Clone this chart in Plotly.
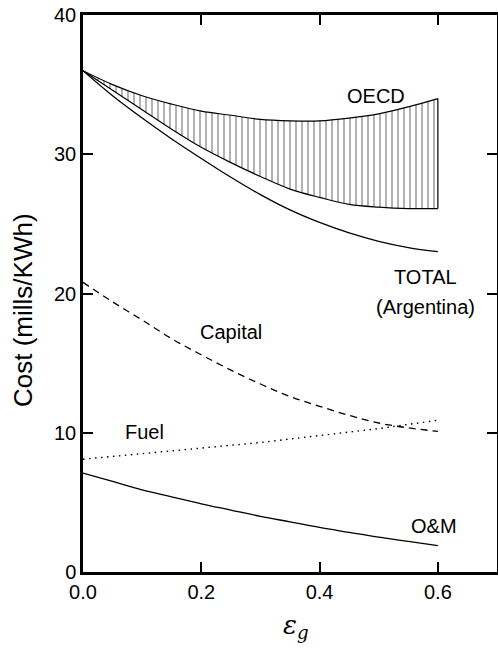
import plotly.graph_objects as go

# ---- data ----
eps = [0.0, 0.05, 0.1, 0.15, 0.2, 0.25, 0.3, 0.35, 0.4, 0.45, 0.5, 0.55, 0.6]
oecd_upper = [36.0, 35.0, 34.2, 33.6, 33.1, 32.8, 32.5, 32.4, 32.4, 32.6, 32.9, 33.4, 34.0]
oecd_lower = [36.0, 34.6, 33.2, 31.8, 30.5, 29.4, 28.4, 27.5, 26.9, 26.4, 26.2, 26.1, 26.1]
total_arg = [36.0, 34.2, 32.6, 31.1, 29.7, 28.35, 27.1, 26.0, 25.1, 24.35, 23.75, 23.3, 23.0]
capital = [20.8, 19.4, 18.1, 16.75, 15.6, 14.5, 13.5, 12.6, 11.9, 11.25, 10.7, 10.35, 10.1]
fuel = [8.1, 8.3, 8.5, 8.7, 8.9, 9.1, 9.3, 9.55, 9.8, 10.05, 10.3, 10.6, 10.9]
om = [7.1, 6.5, 5.9, 5.4, 4.9, 4.45, 4.0, 3.6, 3.2, 2.85, 2.5, 2.2, 1.9]

x_ticks = [0.0, 0.2, 0.4, 0.6]
y_ticks = [0, 10, 20, 30, 40]

FONT = "Liberation Sans, Arial, sans-serif"

fig = go.Figure()

# OECD hatched band between lower and upper curves
fig.add_trace(go.Scatter(x=eps, y=oecd_lower, mode="lines", line_shape="spline",
                         line=dict(color="black", width=1.2), showlegend=False,
                         hoverinfo="skip"))
fig.add_trace(go.Scatter(
    x=eps, y=oecd_upper, mode="lines", line_shape="spline", fill="tonexty",
    line=dict(color="black", width=1.2),
    fillcolor="rgba(0,0,0,0)",
    fillpattern=dict(shape="|", size=6, solidity=0.2, fgcolor="black",
                     bgcolor="rgba(0,0,0,0)"),
    showlegend=False, hoverinfo="skip"))
# closing edge of the band at the last epsilon
fig.add_trace(go.Scatter(x=[eps[-1], eps[-1]], y=[oecd_lower[-1], oecd_upper[-1]],
                         mode="lines", line=dict(color="black", width=1.2),
                         showlegend=False, hoverinfo="skip"))

fig.add_trace(go.Scatter(x=eps, y=total_arg, mode="lines", line_shape="spline",
                         line=dict(color="black", width=1.3), showlegend=False))
fig.add_trace(go.Scatter(x=eps, y=capital, mode="lines", line_shape="spline",
                         line=dict(color="black", width=1.3, dash="7px,5px"), showlegend=False))
fig.add_trace(go.Scatter(x=eps, y=fuel, mode="lines", line_shape="spline",
                         line=dict(color="black", width=1.4, dash="1.5px,4.5px"), showlegend=False))
fig.add_trace(go.Scatter(x=eps, y=om, mode="lines", line_shape="spline",
                         line=dict(color="black", width=1.3), showlegend=False))

labels = [
    ("OECD", 0.495, 34.2),
    ("TOTAL", 0.579, 21.2),
    ("(Argentina)", 0.579, 19.05),
    ("Capital", 0.25, 17.2),
    ("Fuel", 0.104, 10.05),
    ("O&M", 0.593, 3.28),
]
for t, x, y in labels:
    fig.add_annotation(x=x, y=y, text=t, showarrow=False, xref="x", yref="y",
                       font=dict(family=FONT, size=20, color="black"),
                       xanchor="center", yanchor="middle")

# y-axis title
fig.add_annotation(x=(23 - 83) / 414, y=(572 - 310) / 557, xref="paper", yref="paper",
                   text="Cost (mills/KWh)", textangle=-90, showarrow=False,
                   font=dict(family=FONT, size=26, color="black"),
                   xanchor="center", yanchor="middle")
# x-axis title: epsilon with subscript g (single text element)
fig.add_annotation(x=(281 - 83) / 414, y=(572 - 608) / 557, xref="paper", yref="paper",
                   text="<i>ε</i><sub><i>g</i></sub>", showarrow=False,
                   font=dict(family="DejaVu Serif, serif", size=26, color="black"),
                   xanchor="left", yanchor="top")

axis_common = dict(showgrid=False, zeroline=False, showline=True, linecolor="black",
                   linewidth=2.5, mirror="ticks", ticks="inside", ticklen=10,
                   tickwidth=2, tickcolor="black", automargin=False,
                   tickfont=dict(family=FONT, size=20, color="black"))

fig.update_xaxes(range=[0, 0.7], tickvals=x_ticks,
                 ticktext=[f"{v:.1f}" for v in x_ticks], **axis_common)
fig.update_yaxes(range=[0, 40], tickvals=y_ticks,
                 ticktext=[str(v) for v in y_ticks], **axis_common)

fig.update_layout(width=498, height=649,
                  margin=dict(l=83, r=1, t=15, b=77, autoexpand=False),
                  plot_bgcolor="white", paper_bgcolor="white",
                  showlegend=False)

fig.write_html("out.html", config={"responsive": False, "displayModeBar": False},
               post_script="document.body.style.margin='0';"
                           "document.body.style.overflow='hidden';")
